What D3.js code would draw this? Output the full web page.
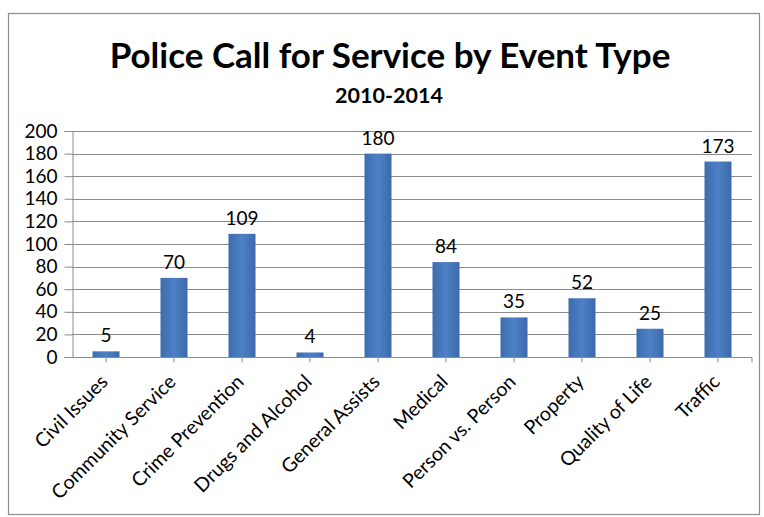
<!DOCTYPE html>
<html>
<head>
<meta charset="utf-8">
<script src="https://cdn.jsdelivr.net/npm/d3@7"></script>
<style>
  html, body { margin: 0; padding: 0; background: #ffffff; }
  svg { display: block; }
  text { font-family: Lato, "Open Sans", sans-serif; fill: #000; }
</style>
</head>
<body>
<svg id="chart" width="764" height="517"></svg>
<script>
// Calls for service per event type, 2010-2014
const categories = ["Civil Issues", "Community Service", "Crime Prevention", "Drugs and Alcohol",
  "General Assists", "Medical", "Person vs. Person", "Property", "Quality of Life", "Traffic"];
const calls = [5, 70, 109, 4, 180, 84, 35, 52, 25, 173];
const yTicks = [0, 20, 40, 60, 80, 100, 120, 140, 160, 180, 200];

const svg = d3.select("#chart");
const plotLeft = 72, plotRight = 752, plotTop = 131, plotBottom = 357;

// outer frame
svg.append("rect")
  .attr("x", 8.5).attr("y", 13.5).attr("width", 751).attr("height", 501)
  .attr("fill", "#fff").attr("stroke", "#8c8c8c").attr("stroke-width", 1.2);

const x = d3.scaleBand().domain(categories).range([plotLeft, plotRight]);
const y = d3.scaleLinear().domain([0, 200]).range([plotBottom, plotTop]);
const cx = d => x(d) + x.bandwidth() / 2;

// horizontal bar shading
const defs = svg.append("defs");
const grad = defs.append("linearGradient").attr("id", "barGrad")
  .attr("x1", 0).attr("x2", 1).attr("y1", 0).attr("y2", 0);
grad.append("stop").attr("offset", "0%").attr("stop-color", "#3d6cae");
grad.append("stop").attr("offset", "50%").attr("stop-color", "#4d81c5");
grad.append("stop").attr("offset", "100%").attr("stop-color", "#3c6aab");

// gridlines
svg.append("g")
  .selectAll("line").data(yTicks.filter(d => d > 0)).join("line")
  .attr("x1", plotLeft).attr("x2", plotRight)
  .attr("y1", d => Math.round(y(d)) + 0.5).attr("y2", d => Math.round(y(d)) + 0.5)
  .attr("stroke", "#8a8a8a").attr("stroke-width", 1);

// y axis
const yAxis = d3.axisLeft(y).tickValues(yTicks).tickSize(8).tickPadding(7);
const gy = svg.append("g").attr("transform", `translate(${plotLeft + 0.5},0)`).call(yAxis);
gy.select(".domain").attr("stroke", "#8a8a8a");
gy.selectAll(".tick line").attr("stroke", "#8a8a8a");
gy.selectAll(".tick text")
  .style("font-size", "19px")
  .style("font-family", "Lato, 'Open Sans', sans-serif")
  .attr("fill", "#000");

// bars
svg.append("g").selectAll("rect").data(categories).join("rect")
  .attr("x", d => cx(d) - 13.5)
  .attr("width", 27)
  .attr("y", (d, i) => y(calls[i]))
  .attr("height", (d, i) => y(0) - y(calls[i]))
  .attr("fill", "url(#barGrad)");

// x axis with ticks under each bar
const gx = svg.append("g").attr("transform", `translate(0,${plotBottom + 0.5})`)
  .call(d3.axisBottom(x).tickSize(5).tickSizeOuter(0).tickFormat(""));
gx.select(".domain").attr("stroke", "#8a8a8a").attr("d", `M${plotLeft},0H${plotRight}`);
gx.selectAll(".tick line").attr("stroke", "#8a8a8a");
gx.append("line").attr("x1", plotRight).attr("x2", plotRight).attr("y1", 0).attr("y2", 5)
  .attr("stroke", "#8a8a8a");

// rotated category labels
svg.append("g").selectAll("text").data(categories).join("text")
  .attr("transform", d => `translate(${cx(d) + 3},${383}) rotate(-45)`)
  .attr("text-anchor", "end")
  .style("font-size", "19.5px")
  .text(d => d);

// value labels
svg.append("g").selectAll("text").data(categories).join("text")
  .attr("x", d => cx(d))
  .attr("y", (d, i) => y(calls[i]) - 9)
  .attr("text-anchor", "middle")
  .style("font-size", "19px")
  .text((d, i) => calls[i]);

// titles
svg.append("text").attr("x", 390).attr("y", 68).attr("text-anchor", "middle")
  .style("font-size", "35px").style("font-weight", "bold")
  .text("Police Call for Service by Event Type");
svg.append("text").attr("x", 389).attr("y", 103).attr("text-anchor", "middle")
  .style("font-size", "21.5px").style("font-weight", "bold")
  .text("2010-2014");
</script>
</body>
</html>
